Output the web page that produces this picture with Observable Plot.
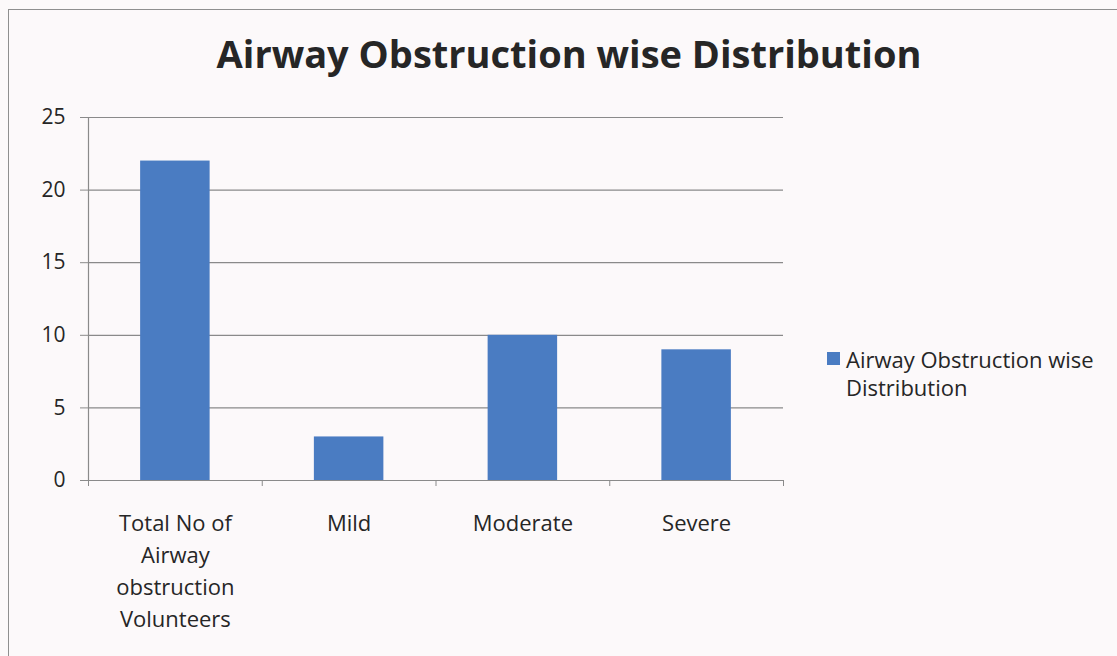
<!DOCTYPE html>
<html>
<head>
<meta charset="utf-8">
<script src="https://cdn.jsdelivr.net/npm/d3@7"></script>
<script src="https://cdn.jsdelivr.net/npm/@observablehq/plot@0.6"></script>
<style>
  html, body { margin: 0; padding: 0; background: #fcf9fa; width: 1117px; height: 656px; overflow: hidden; }
  #frame { position: absolute; left: 8px; top: 9px; width: 1130px; height: 670px; border: 1.5px solid #8f8f8f; box-sizing: border-box; }
  #title { position: absolute; left: 0; top: 34px; width: 1138px; text-align: center; font-family: "Open Sans", sans-serif; font-weight: 700; font-size: 38px; color: #262626; line-height: 1; }
  #chart { position: absolute; left: 0; top: 0; }
  #legend { position: absolute; left: 827px; top: 345px; font-family: "Open Sans", sans-serif; font-size: 22px; color: #262626; line-height: 28px; }
  #legend .sw { position: absolute; left: 0; top: 7px; width: 13px; height: 13px; }
  #legend .lt { margin-left: 19px; }
</style>
</head>
<body>
<div id="frame"></div>
<div id="title"></div>
<div id="chart"></div>
<div id="legend"></div>
<script>
const titleText = "Airway Obstruction wise Distribution";
const seriesName = "Airway Obstruction wise Distribution";
const categories = ["Total No of Airway obstruction Volunteers", "Mild", "Moderate", "Severe"];
const tickLabels = ["Total No of\nAirway\nobstruction\nVolunteers", "Mild", "Moderate", "Severe"];
const values = [22, 3, 10, 9];
const yTicks = [0, 5, 10, 15, 20, 25];
const barColor = "#4a7cc2";

const data = categories.map((c, i) => ({category: c, index: i, value: values[i]}));
const bandPad = 0.3;

document.getElementById("title").textContent = titleText;

const plot = Plot.plot({
  width: 1117,
  height: 656,
  marginLeft: 88,
  marginRight: 334,
  marginTop: 117,
  marginBottom: 176,
  style: {background: "transparent", fontFamily: "Open Sans, sans-serif", color: "#262626"},
  x: {type: "linear", domain: [0, categories.length]},
  y: {domain: [0, 25]},
  marks: [
    Plot.gridY(yTicks, {stroke: "#8a8a8a", strokeOpacity: 1, strokeWidth: 1.2}),
    Plot.rectY(data, {x1: d => d.index + bandPad, x2: d => d.index + 1 - bandPad, y: "value", fill: barColor}),
    Plot.ruleY([0], {stroke: "#8a8a8a", strokeWidth: 1.2}),
    Plot.frame({anchor: "left", stroke: "#8a8a8a", strokeWidth: 1.2}),
    Plot.axisY({ticks: yTicks, tickSize: 8, tickPadding: 15, fontSize: 21, stroke: "#8a8a8a", label: null}),
    Plot.axisX({ticks: d3.range(categories.length + 1), tickSize: 6, tickFormat: () => "", stroke: "#8a8a8a", label: null}),
    Plot.axisX({ticks: categories.map((c, i) => i + 0.5), tickSize: 0, tickPadding: 28, fontSize: 22, lineHeight: 1.45,
      tickFormat: v => tickLabels[Math.floor(v)], label: null})
  ]
});
document.getElementById("chart").appendChild(plot);

const legend = document.getElementById("legend");
const sw = document.createElement("div");
sw.className = "sw";
sw.style.background = barColor;
legend.appendChild(sw);
const lt = document.createElement("div");
lt.className = "lt";
lt.innerHTML = "Airway Obstruction wise<br>Distribution";
legend.appendChild(lt);
</script>
</body>
</html>
